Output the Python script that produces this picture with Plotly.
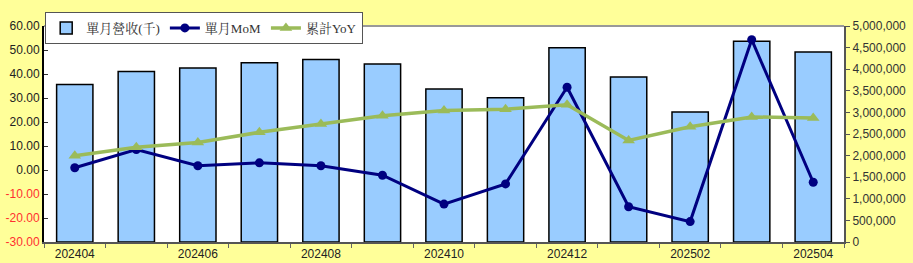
import plotly.graph_objects as go

months = ["202404", "202405", "202406", "202407", "202408", "202409", "202410",
          "202411", "202412", "202501", "202502", "202503", "202504"]
revenue = [3647000, 3947000, 4030000, 4150000, 4226000, 4120000, 3541000,
           3338000, 4497000, 3820000, 3008000, 4646000, 4398000]
mom = [0.95, 8.5, 1.76, 2.98, 1.76, -2.17, -14.2, -5.8, 34.5, -15.3, -21.5, 54.3, -5.1]
yoy = [5.95, 9.47, 11.5, 15.7, 19.2, 22.6, 24.8, 25.3, 27.2, 12.3, 18.0, 22.1, 21.7]

left_ticks = [60, 50, 40, 30, 20, 10, 0, -10, -20, -30]
right_ticks = [0, 500000, 1000000, 1500000, 2000000, 2500000, 3000000,
               3500000, 4000000, 4500000, 5000000]
xlabels = [m if i % 2 == 0 else "" for i, m in enumerate(months)]

left_text = [f"{v:.2f}" if v >= 0 else f"<span style='color:#FF3030'>{v:.2f}</span>"
             for v in left_ticks]
right_text = [f"{v:,}" for v in right_ticks]

fig = go.Figure()
fig.add_trace(go.Bar(
    x=months, y=revenue, name="單月營收(千)", yaxis="y",
    marker=dict(color="#99CCFF", line=dict(color="#000000", width=1.5)),
))
fig.add_trace(go.Scatter(
    x=months, y=mom, name="單月MoM", mode="lines+markers", yaxis="y2",
    line=dict(color="#000080", width=3),
    marker=dict(symbol="circle", size=9, color="#000080"),
))
fig.add_trace(go.Scatter(
    x=months, y=yoy, name="累計YoY", mode="lines+markers", yaxis="y2",
    line=dict(color="#9BBB59", width=3.5),
    marker=dict(symbol="triangle-up", size=11, color="#9BBB59"),
))

fig.update_layout(
    width=913, height=263,
    margin=dict(l=44, r=69, t=20, b=21),
    paper_bgcolor="#FFFF99",
    plot_bgcolor="#FFFFFF",
    bargap=0.41,
    showlegend=True,
    legend=dict(
        orientation="h", x=0.0015, y=1.065, xanchor="left", yanchor="top",
        bgcolor="#FFFFFF", bordercolor="#555555", borderwidth=1,
        font=dict(family="Liberation Serif, Noto Serif CJK TC, Noto Sans CJK TC", size=13, color="#333333"),
        traceorder="normal", itemwidth=30,
    ),
    xaxis=dict(
        type="category", tickmode="array", tickvals=months, ticktext=xlabels,
        tickson="boundaries", ticks="outside", ticklen=4, tickcolor="#666666",
        showline=True, linecolor="#555555", linewidth=2, showgrid=False,
        tickfont=dict(family="Liberation Sans, Arial", size=12, color="#222222"),
        range=[-0.5, 12.5], automargin=False,
    ),
    yaxis=dict(
        range=[0, 5000000], side="right", tickmode="array",
        tickvals=right_ticks, ticktext=right_text, showgrid=False, zeroline=False,
        showline=True, linecolor="#555555", linewidth=2, ticks="outside", ticklen=4,
        tickcolor="#555555", automargin=False,
        tickfont=dict(family="Liberation Sans, Arial", size=12, color="#333333"),
    ),
    yaxis2=dict(
        range=[-30, 60], overlaying="y", side="left", tickmode="array",
        tickvals=left_ticks, ticktext=left_text,
        showgrid=False, zeroline=False, showline=True, linecolor="#000000", linewidth=2,
        ticks="inside", ticklen=4, tickcolor="#333333", automargin=False,
        tickfont=dict(family="Liberation Sans, Arial", size=12, color="#222222"),
    ),
    shapes=[dict(type="line", xref="paper", yref="paper", x0=0, x1=1, y0=1, y1=1,
                 line=dict(color="#999999", width=2))],
)

fig.write_html("out.html")
